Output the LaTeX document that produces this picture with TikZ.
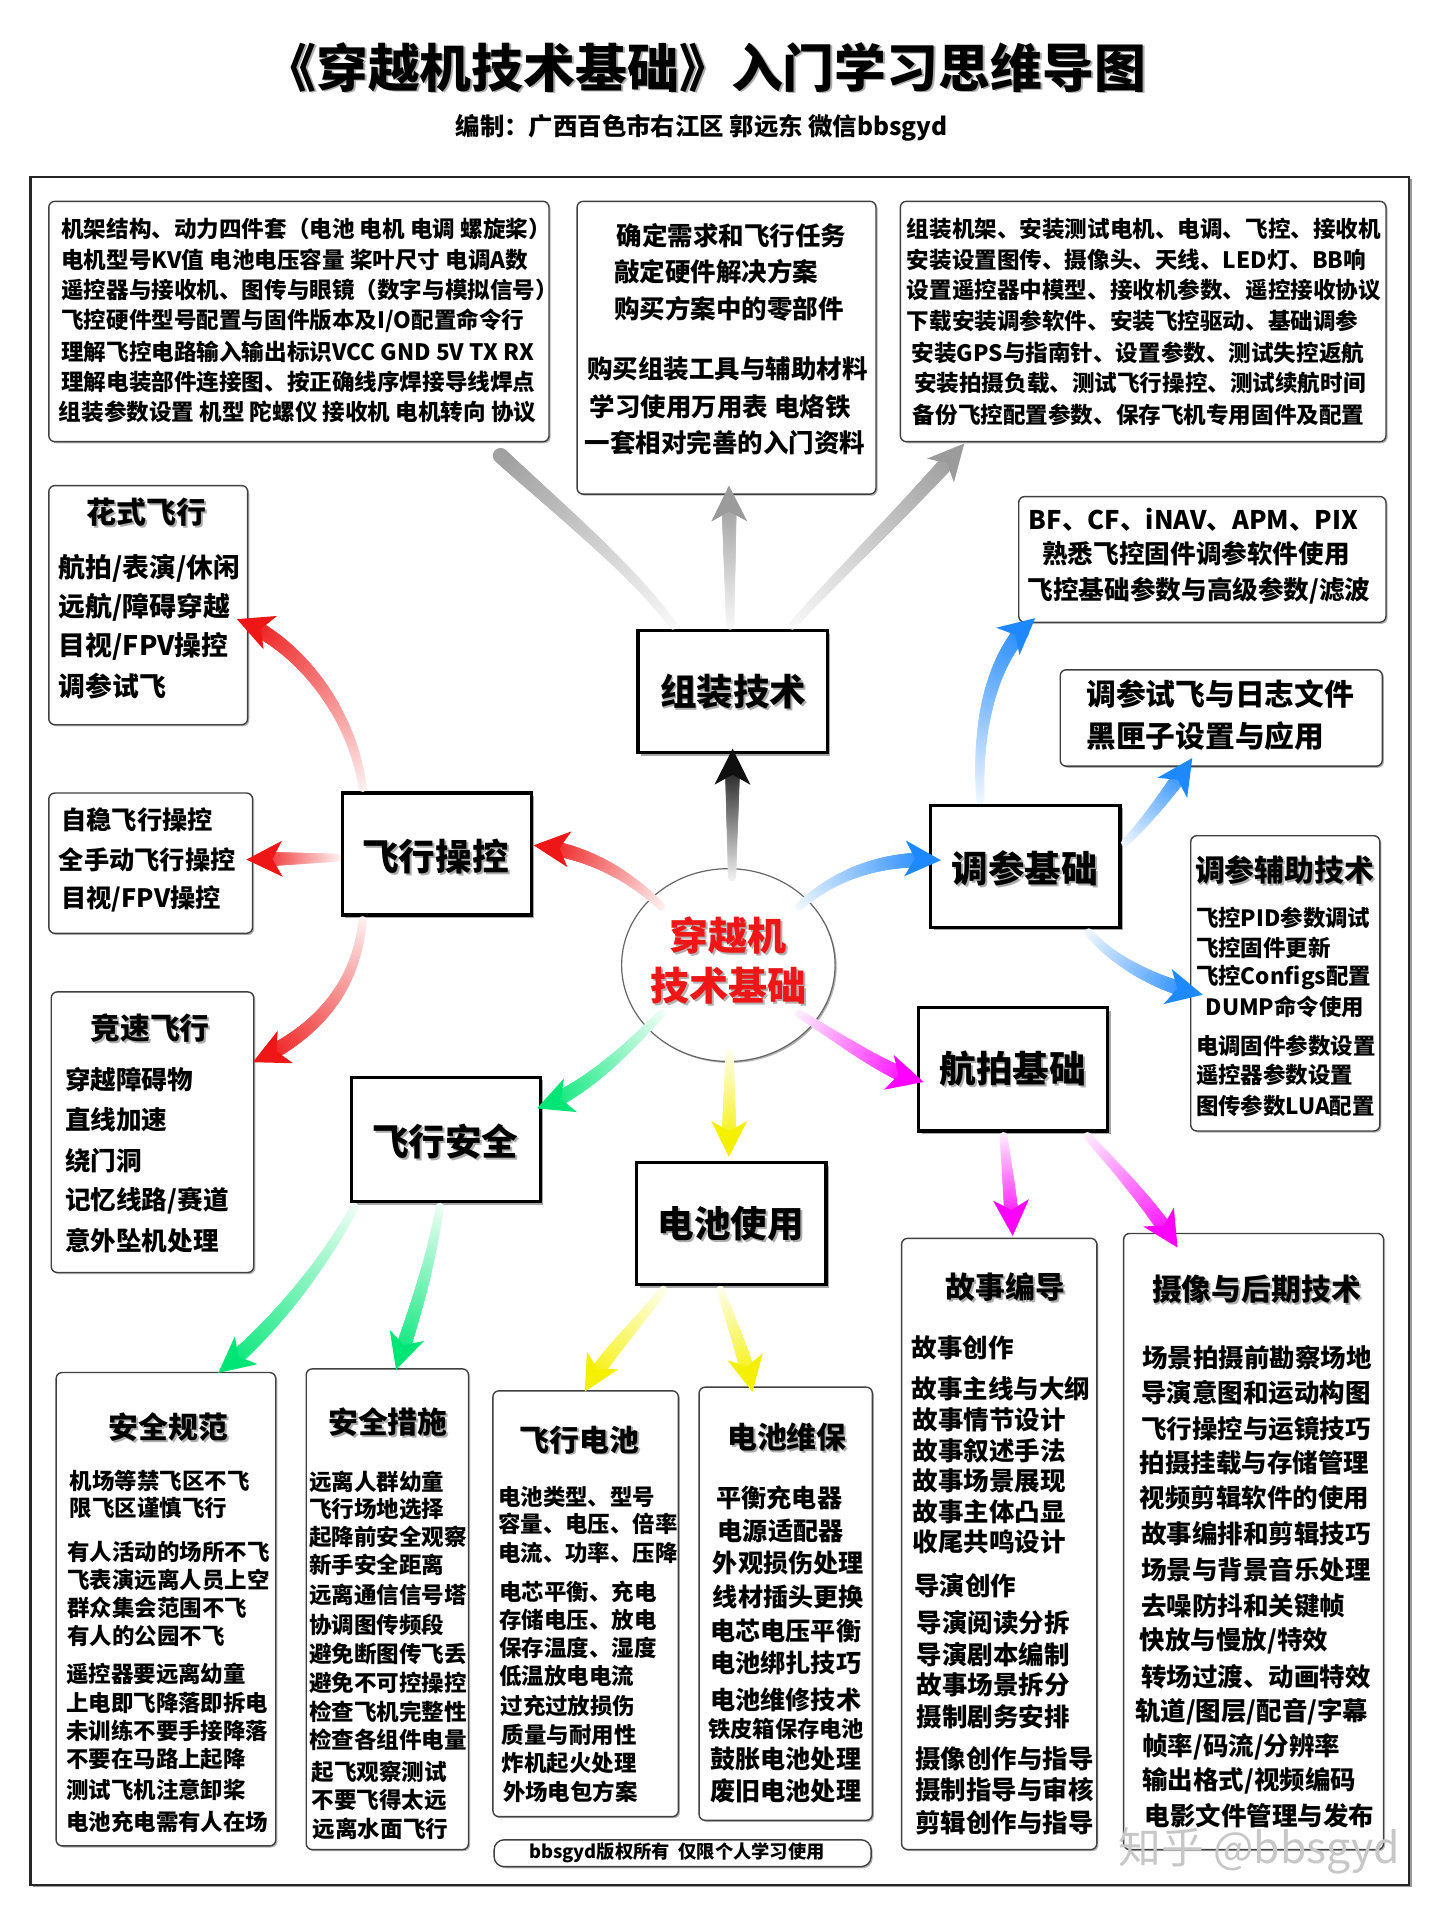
\documentclass[tikz,border=0pt]{standalone}
\usepackage{fontspec}
\setmainfont{Noto Sans CJK SC}
\usetikzlibrary{decorations.markings,shapes.geometric,shadows,calc}
\newdimen\fszd
\newcommand\fsz[1]{\fszd=0.61015pt\relax\fszd=#1\fszd\relax\fontsize{\fszd}{1.2\fszd}\selectfont}
\def\pxu{0.61015pt}
\definecolor{redA}{RGB}{238,22,22}
\definecolor{bluA}{RGB}{30,136,255}
\definecolor{magA}{RGB}{255,0,255}
\definecolor{yelA}{RGB}{245,240,0}
\definecolor{grnA}{RGB}{0,230,118}
\definecolor{gryA}{RGB}{155,155,155}
\definecolor{blkA}{RGB}{15,15,15}
\tikzset{
  farrow/.style={
    decoration={markings,
      mark=between positions 0 and -8pt step 0.7pt with {%
        \pgfmathsetmacro\fp{\pgfkeysvalueof{/pgf/decoration/mark info/distance from start}/\pgfdecoratedpathlength}%
        \pgfmathsetmacro\fpc{6+94*\fp}%
        \pgfmathsetmacro\fr{2.1+1.9*\fp}%
        \fill[#1!\fpc!white] (0pt,0pt) circle[radius=\fr pt];%
      },
      mark=at position 1 with {%
        \fill[#1] (1pt,0pt) -- (-17pt,9pt) -- (-12pt,0pt) -- (-17pt,-9pt) -- cycle;%
      }
    },
    postaction={decorate}
  },
  mainbox/.style={draw=black, line width=1.6pt, fill=white, minimum width=155*\pxu, minimum height=100*\pxu, inner sep=0pt,
    drop shadow={shadow xshift=1.5pt, shadow yshift=-1.5pt, fill=black, opacity=0.35}},
  subbox/.style={draw=black!75, line width=0.7pt, rounded corners=3pt, fill=white, inner sep=0pt,
    drop shadow={shadow xshift=0.8pt, shadow yshift=-0.8pt, fill=black, opacity=0.3}},
  ln/.style={font=\fsz{#1}\bfseries, anchor=west, inner sep=0pt},
}
\newcommand\stxt[5]{%
  \node[font=\fsz{#4}\bfseries, text=black!32, inner sep=0pt] (#1-sh) at (#2+1.6,#3+1.6) {#5};
  \node[font=\fsz{#4}\bfseries, inner sep=0pt] (#1) at (#2,#3) {#5};
}
\begin{document}
\begin{tikzpicture}[x=0.61015pt, y=-0.61015pt]
\fill[white] (0,0) rectangle (1180,1568);
\useasboundingbox (0,0) rectangle (1180,1568);

% title
\stxt{title}{578}{55}{42.5}{《穿越机技术基础》入门学习思维导图}
\node[font=\fsz{20}\bfseries] (subt) at (575,105) {编制：广西百色市右江区 郭远东 微信bbsgyd};

% frame
\node[draw=black!85, line width=1.2pt, fill=white, minimum width=1130*\pxu, minimum height=1400*\pxu, inner sep=0pt,
  drop shadow={shadow xshift=1.2pt, shadow yshift=-1.2pt, fill=black, opacity=0.4}] (frame) at (590,845) {};

% sub boxes
\node[subbox, minimum width=410*\pxu, minimum height=197*\pxu] (tlb) at (245,263.5) {};
\node[subbox, minimum width=245*\pxu, minimum height=240*\pxu] (tmb) at (595.5,285) {};
\node[subbox, minimum width=398*\pxu, minimum height=197*\pxu] (trb) at (937,263.5) {};
\node[subbox, minimum width=163*\pxu, minimum height=196*\pxu] (hsb) at (121.5,496) {};
\node[subbox, minimum width=167*\pxu, minimum height=115*\pxu] (zwb) at (123.5,707.5) {};
\node[subbox, minimum width=166*\pxu, minimum height=230*\pxu] (jsb) at (125,928) {};
\node[subbox, minimum width=301*\pxu, minimum height=103*\pxu] (bfb) at (985.5,458.5) {};
\node[subbox, minimum width=264*\pxu, minimum height=79*\pxu] (tsb) at (1001,588.5) {};
\node[subbox, minimum width=155*\pxu, minimum height=242*\pxu] (fzb) at (1053.5,806) {};
\node[subbox, minimum width=180*\pxu, minimum height=388*\pxu] (gfb) at (136,1319) {};
\node[subbox, minimum width=133*\pxu, minimum height=394*\pxu] (csb) at (317.5,1319) {};
\node[subbox, minimum width=152*\pxu, minimum height=349*\pxu] (fdb) at (480,1314.5) {};
\node[subbox, minimum width=142*\pxu, minimum height=355*\pxu] (wbb) at (644,1314.5) {};
\node[subbox, minimum width=160*\pxu, minimum height=501*\pxu] (gdb) at (819,1265.5) {};
\node[subbox, minimum width=213*\pxu, minimum height=505*\pxu] (sxb) at (1027.5,1263.5) {};
\node[subbox, rounded corners=5pt, minimum width=309*\pxu, minimum height=22*\pxu] (foot) at (559.5,1519) {};

% main boxes
\node[mainbox] (zz) at (600.5,567) {};
\node[mainbox] (fx) at (358,700) {};
\node[mainbox] (tc) at (840.5,710) {};
\node[mainbox, minimum height=101*\pxu] (hp) at (830.5,876.5) {};
\node[mainbox, minimum height=102*\pxu] (aq) at (365.5,934) {};
\node[mainbox] (dc) at (599.5,1003) {};
\node[ellipse, draw=black!60, line width=0.6pt, fill=white, minimum width=175*\pxu, minimum height=158*\pxu,
  drop shadow={shadow xshift=0.8pt, shadow yshift=-0.8pt, fill=black, opacity=0.3}] (cc) at (597,791) {};

% arrows from the centre
\path[farrow=blkA] ($(cc)+(3,-72)$) -- ($(zz.south)+(0,-3)$);
\path[farrow=redA] ($(cc)+(-55,-48)$) .. controls (510,712) and (475,697) .. ($(fx.east)+(2,-7)$);
\path[farrow=bluA] ($(cc)+(58,-48)$) .. controls (690,712) and (730,703) .. ($(tc.west)+(8,-5)$);
\path[farrow=magA] ($(cc)+(58,40)$) .. controls (690,852) and (725,878) .. ($(hp.west)+(4,10)$);
\path[farrow=grnA] ($(cc)+(-55,40)$) .. controls (512,862) and (480,893) .. ($(aq.east)+(-3,-26)$);
\path[farrow=yelA] ($(cc)+(1,72)$) -- ($(dc.north)+(-2,-5)$);
% 组装技术
\path[farrow=gryA] ($(zz.north west)+(30,-3)$) .. controls (520,468) and (455,415) .. ($(tlb.south east)+(-50,2)$);
\path[farrow=gryA] ($(zz.north)+(-2,-3)$) -- ($(tmb.south)+(2,-6)$);
\path[farrow=gryA] ($(zz.north east)+(-30,-3)$) .. controls (690,468) and (745,415) .. ($(trb.south west)+(52,2)$);
% 飞行操控
\path[farrow=redA] ($(fx.north west)+(18,-3)$) .. controls (290,590) and (250,530) .. ($(hsb.east)+(-8,12)$);
\path[farrow=redA] ($(fx.west)+(-3,3)$) -- ($(zwb.east)+(-4,-3)$);
\path[farrow=redA] ($(fx.south west)+(18,3)$) .. controls (292,808) and (262,845) .. ($(jsb.east)+(0,-58)$);
% 调参基础
\path[farrow=bluA] ($(tc.north west)+(42,-3)$) .. controls (800,590) and (815,535) .. ($(bfb.south west)+(13,-3)$);
\path[farrow=bluA] ($(tc.north east)+(3,32)$) .. controls (938,675) and (958,650) .. ($(tsb.south west)+(108,-6)$);
\path[farrow=bluA] ($(tc.south east)+(-27,3)$) .. controls (915,790) and (950,807) .. ($(fzb.west)+(9,9)$);
% 航拍基础
\path[farrow=magA] ($(hp.south)+(-8,3)$) .. controls (826,962) and (829,990) .. ($(gdb.north)+(11,-3)$);
\path[farrow=magA] ($(hp.south east)+(-18,3)$) .. controls (915,957) and (945,990) .. ($(sxb.north west)+(44,11)$);
% 飞行安全
\path[farrow=grnA] ($(aq.south west)+(4,3)$) .. controls (262,1042) and (220,1092) .. ($(gfb.north)+(44,0)$);
\path[farrow=grnA] ($(aq.south)+(-5,3)$) .. controls (352,1042) and (335,1090) .. ($(csb.north)+(7.5,0)$);
% 电池使用
\path[farrow=yelA] ($(dc.south west)+(23,3)$) .. controls (520,1088) and (495,1113) .. (fdb.north);
\path[farrow=yelA] ($(dc.south)+(-9,3)$) .. controls (601,1088) and (611,1113) .. ($(wbb.north west)+(44,3)$);

% main texts
\stxt{zzt}{601}{567}{30}{组装技术}
\stxt{fxt}{357}{702}{30}{飞行操控}
\stxt{tct}{840}{712}{30}{调参基础}
\stxt{hpt}{830}{876}{30}{航拍基础}
\stxt{aqt}{365}{936}{30}{飞行安全}
\stxt{dct}{599}{1003}{30}{电池使用}
\node[font=\fsz{32}\bfseries, text=black!30, inner sep=0pt] (cct1-sh) at (598.5,768.5) {穿越机};
\node[font=\fsz{32}\bfseries, text=black!30, inner sep=0pt] (cct2-sh) at (598.5,809.5) {技术基础};
\node[font=\fsz{32}\bfseries, text=redA, inner sep=0pt] (cct1) at (597,767) {穿越机};
\node[font=\fsz{32}\bfseries, text=redA, inner sep=0pt] (cct2) at (597,808) {技术基础};

% top boxes
\foreach \xx/\yy/\lt [count=\i] in {
50/188/{机架结构、动力四件套（电池 电机 电调 螺旋桨）},
50/213/{电机型号KV值 电池电压容量 桨叶尺寸 电调A数},
50/238/{遥控器与接收机、图传与眼镜（数字与模拟信号）},
50/263/{飞控硬件型号配置与固件版本及I/O配置命令行},
50/288/{理解飞控电路输入输出标识VCC GND 5V TX RX},
50/313/{理解电装部件连接图、按正确线序焊接导线焊点},
48/338/{组装参数设置 机型 陀螺仪 接收机 电机转向 协议}}
  \node[ln=18.5] (tl-\i) at (\xx,\yy) {\lt};
\foreach \xx/\yy/\lt [count=\i] in {
505/193/{确定需求和飞行任务},
503/223/{敲定硬件解决方案},
503/253/{购买方案中的零部件},
481/302/{购买组装工具与辅助材料},
483/333/{学习使用万用表 电烙铁},
479/363/{一套相对完善的入门资料}}
  \node[ln=20.9] (tm-\i) at (\xx,\yy) {\lt};
\foreach \xx/\yy/\lt [count=\i] in {
743/188/{组装机架、安装测试电机、电调、飞控、接收机},
743/213/{安装设置图传、摄像头、天线、LED灯、BB响},
743/238/{设置遥控器中模型、接收机参数、遥控接收协议},
743/263/{下载安装调参软件、安装飞控驱动、基础调参},
747/289/{安装GPS与指南针、设置参数、测试失控返航},
749/314/{安装拍摄负载、测试飞行操控、测试续航时间},
748/340/{备份飞控配置参数、保存飞机专用固件及配置}}
  \node[ln=18.5] (tr-\i) at (\xx,\yy) {\lt};

% left column
\stxt{hst}{120}{420}{24.5}{花式飞行}
\foreach \xx/\yy/\lt [count=\i] in {
48/466/{航拍/表演/休闲}, 48/498/{远航/障碍穿越}, 48/530/{目视/FPV操控}, 48/562/{调参试飞}}
  \node[ln=22] (hs-\i) at (\xx,\yy) {\lt};
\foreach \xx/\yy/\lt [count=\i] in {
50/672/{自稳飞行操控}, 48/705/{全手动飞行操控}, 50/737/{目视/FPV操控}}
  \node[ln=20.7] (zw-\i) at (\xx,\yy) {\lt};
\stxt{jst}{123}{843}{24.5}{竞速飞行}
\foreach \xx/\yy/\lt [count=\i] in {
53/885/{穿越障碍物}, 53/918/{直线加速}, 53/951/{绕门洞}, 53/984/{记忆线路/赛道}, 53/1017/{意外坠机处理}}
  \node[ln=21] (js-\i) at (\xx,\yy) {\lt};

% right column
\foreach \xx/\yy/\lt [count=\i] in {
843/426/{BF、CF、iNAV、APM、PIX}, 854/454/{熟悉飞控固件调参软件使用}, 842/484/{飞控基础参数与高级参数/滤波}}
  \node[ln=21] (bf-\i) at (\xx,\yy) {\lt};
\foreach \xx/\yy/\lt [count=\i] in {
890/569/{调参试飞与日志文件}, 890/603/{黑匣子设置与应用}}
  \node[ln=24.4] (ts-\i) at (\xx,\yy) {\lt};
\stxt{fzt}{1053}{713}{24.5}{调参辅助技术}
\foreach \xx/\yy/\lt [count=\i] in {
980/752/{飞控PID参数调试}, 980/777/{飞控固件更新}, 980/801/{飞控Configs配置}, 988/825/{DUMP命令使用},
980/857/{电调固件参数设置}, 980/881/{遥控器参数设置}, 980/906/{图传参数LUA配置}}
  \node[ln=18.4] (fz-\i) at (\xx,\yy) {\lt};

% bottom boxes
\stxt{gft}{138}{1170}{24.5}{安全规范}
\foreach \xx/\yy/\lt [count=\i] in {
57/1214/{机场等禁飞区不飞}, 57/1236/{限飞区谨慎飞行},
55/1272/{有人活动的场所不飞}, 55/1295/{飞表演远离人员上空}, 55/1318/{群众集会范围不飞}, 55/1341/{有人的公园不飞},
54/1372/{遥控器要远离幼童}, 54/1396/{上电即飞降落即拆电}, 54/1419/{未训练不要手接降落}, 54/1442/{不要在马路上起降},
54/1467/{测试飞机注意卸桨}, 54/1493/{电池充电需有人在场}}
  \node[ln=18.4] (gf-\i) at (\xx,\yy) {\lt};
\stxt{cst}{318}{1166}{24.5}{安全措施}
\foreach \xx/\yy/\lt [count=\i] in {
253/1215/{远离人群幼童}, 253/1237/{飞行场地选择}, 253/1260/{起降前安全观察}, 253/1283/{新手安全距离},
253/1307/{远离通信信号塔}, 253/1332/{协调图传频段}, 253/1356/{避免断图传飞丢}, 253/1379/{避免不可控操控},
253/1403/{检查飞机完整性}, 253/1426/{检查各组件电量}, 255/1452/{起飞观察测试}, 255/1475/{不要飞得太远}, 256/1499/{远离水面飞行}}
  \node[ln=18.5] (cs-\i) at (\xx,\yy) {\lt};
\stxt{fdt}{475}{1180}{24.5}{飞行电池}
\foreach \xx/\yy/\lt [count=\i] in {
408/1227/{电池类型、型号}, 408/1249/{容量、电压、倍率}, 408/1273/{电流、功率、压降},
409/1305/{电芯平衡、充电}, 409/1328/{存储电压、放电}, 409/1351/{保存温度、湿度}, 409/1374/{低温放电电流},
410/1398/{过充过放损伤}, 411/1422/{质量与耐用性}, 411/1445/{炸机起火处理}, 412/1469/{外场电包方案}}
  \node[ln=18.4] (fd-\i) at (\xx,\yy) {\lt};
\stxt{wbt}{645}{1178}{24.5}{电池维保}
\foreach \xx/\yy/\ss/\lt [count=\i] in {
587/1228/20.6/{平衡充电器}, 588/1255/20.6/{电源适配器}, 584/1281/20.6/{外观损伤处理}, 584/1309/20.6/{线材插头更换},
582/1337/20.6/{电芯电压平衡}, 582/1363/20.6/{电池绑扎技巧}, 582/1393/20.6/{电池维修技术}, 580/1417/18.3/{铁皮箱保存电池},
582/1442/20.6/{鼓胀电池处理}, 582/1468/20.6/{废旧电池处理}}
  \node[ln=\ss] (wb-\i) at (\xx,\yy) {\lt};
\stxt{gdt}{824}{1055}{24.5}{故事编导}
\foreach \xx/\yy/\lt [count=\i] in {
747/1105/{故事创作}, 747/1138/{故事主线与大纲}, 748/1164/{故事情节设计}, 748/1189/{故事叙述手法},
748/1214/{故事场景展现}, 748/1239/{故事主体凸显}, 748/1264/{收尾共鸣设计},
749/1300/{导演创作}, 751/1330/{导演阅读分拆}, 751/1356/{导演剧本编制}, 751/1381/{故事场景拆分}, 751/1407/{摄制剧务安排},
750/1442/{摄像创作与指导}, 750/1467/{摄制指导与审核}, 750/1494/{剪辑创作与指导}}
  \node[ln=20.9] (gd-\i) at (\xx,\yy) {\lt};
\stxt{sxt}{1030}{1057}{24.5}{摄像与后期技术}
\foreach \xx/\yy/\lt [count=\i] in {
936/1113/{场景拍摄前勘察场地}, 935/1142/{导演意图和运动构图}, 935/1171/{飞行操控与运镜技巧}, 934/1199/{拍摄挂载与存储管理},
934/1228/{视频剪辑软件的使用}, 935/1257/{故事编排和剪辑技巧}, 935/1287/{场景与背景音乐处理}, 935/1316/{去噪防抖和关键帧},
934/1345/{快放与慢放/特效}, 935/1374/{转场过渡、动画特效}, 930/1403/{轨道/图层/配音/字幕}, 936/1432/{帧率/码流/分辨率},
936/1460/{输出格式/视频编码}, 938/1488/{电影文件管理与发布}}
  \node[ln=20.9] (sx-\i) at (\xx,\yy) {\lt};

% footer and watermark
\node[font=\fsz{15}\bfseries, inner sep=0pt] (foott) at (555,1519) {bbsgyd版权所有\ \ 仅限个人学习使用};
\node[font=\fsz{35}, text=black!22, inner sep=0pt] (wm) at (1032,1517) {知乎 @bbsgyd};
\end{tikzpicture}
\end{document}
